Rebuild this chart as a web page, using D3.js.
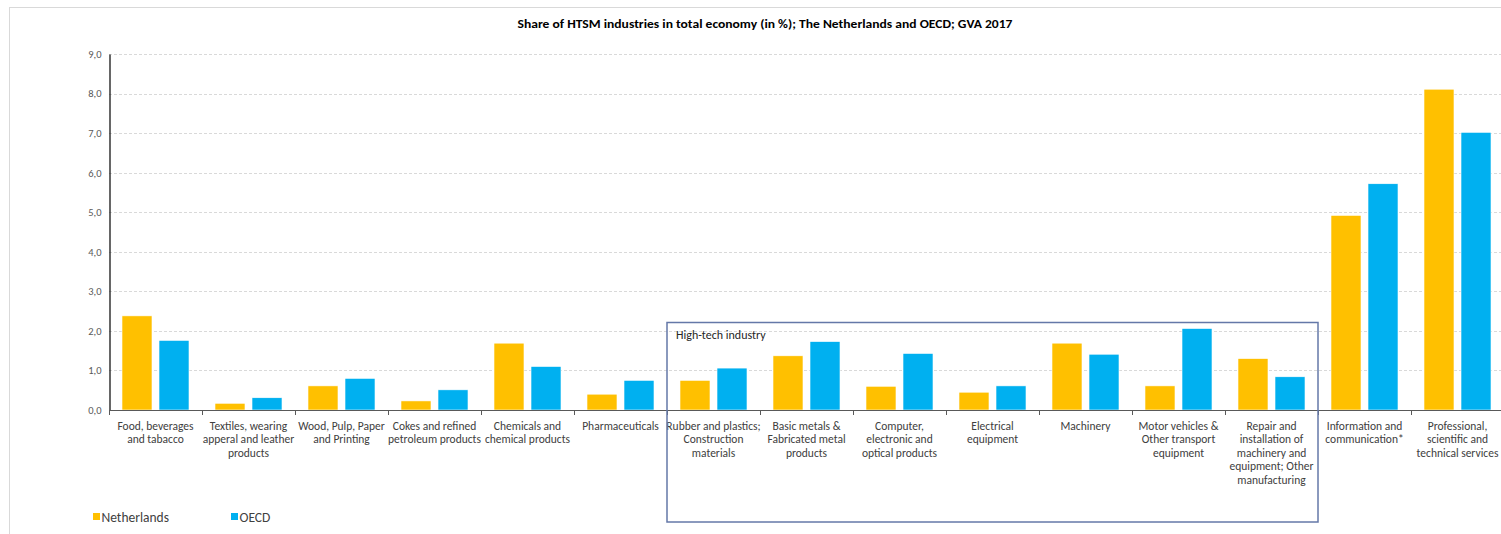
<!DOCTYPE html>
<html>
<head>
<meta charset="utf-8">
<script src="https://cdn.jsdelivr.net/npm/d3@7"></script>
<style>
  html, body { margin: 0; padding: 0; background: #fff; }
  svg { display: block; font-family: Calibri, Carlito, Lato, "Open Sans", sans-serif; }
</style>
</head>
<body>
<svg id="chart" width="1501" height="534"></svg>
<script>
// Industry categories (line breaks as shown under the axis)
const categories = [
  "Food, beverages\nand tabacco",
  "Textiles, wearing\napperal and leather\nproducts",
  "Wood, Pulp, Paper\nand Printing",
  "Cokes and refined\npetroleum products",
  "Chemicals and\nchemical products",
  "Pharmaceuticals",
  "Rubber and plastics;\nConstruction\nmaterials",
  "Basic metals &\nFabricated metal\nproducts",
  "Computer,\nelectronic and\noptical products",
  "Electrical\nequipment",
  "Machinery",
  "Motor vehicles &\nOther transport\nequipment",
  "Repair and\ninstallation of\nmachinery and\nequipment; Other\nmanufacturing",
  "Information and\ncommunication*",
  "Professional,\nscientific and\ntechnical services"
];

const seriesNames = ["Netherlands", "OECD"];

// Share of gross value added, 2017 (%)
const netherlandsValues = [2.38, 0.17, 0.61, 0.23, 1.69, 0.40, 0.75, 1.37, 0.60, 0.45, 1.69, 0.61, 1.30, 4.92, 8.11];
const oecdValues        = [1.76, 0.31, 0.80, 0.51, 1.10, 0.75, 1.06, 1.73, 1.43, 0.61, 1.41, 2.06, 0.84, 5.72, 7.02];

const yTicks = [0, 1, 2, 3, 4, 5, 6, 7, 8, 9];
const titleText = "Share of HTSM industries in total economy (in %); The Netherlands and OECD; GVA 2017";
const highTechLabel = "High-tech industry";
const highTechFirst = 6;   // Rubber and plastics
const highTechLast = 12;   // Repair and installation

const colors = { "Netherlands": "#FFC000", "OECD": "#00B0F0" };

const svg = d3.select("#chart");

// Chart area frame
svg.append("rect")
  .attr("x", 9.5).attr("y", 7.5)
  .attr("width", 1600).attr("height", 600)
  .attr("fill", "#fff").attr("stroke", "#d9d9d9").attr("stroke-width", 1);

const plot = { left: 109, top: 54, bottom: 410, right: 1504 };

const x = d3.scaleBand()
  .domain(categories)
  .range([plot.left, plot.right])
  .paddingInner(0).paddingOuter(0);

const xs = d3.scaleBand()
  .domain(seriesNames)
  .range([0, x.bandwidth()])
  .paddingInner(7 / 37)
  .paddingOuter(0.351);

const y = d3.scaleLinear().domain([0, 9]).range([plot.bottom, plot.top]);

// Title
svg.append("text")
  .attr("x", 765).attr("y", 28)
  .attr("text-anchor", "middle")
  .attr("font-size", 12.5).attr("font-weight", "bold")
  .attr("fill", "#000")
  .attr("textLength", 495).attr("lengthAdjust", "spacingAndGlyphs")
  .text(titleText);

// Horizontal gridlines
svg.append("g")
  .selectAll("line")
  .data(yTicks.filter(d => d > 0))
  .join("line")
  .attr("x1", plot.left).attr("x2", 1501)
  .attr("y1", d => Math.round(y(d)) + 0.5).attr("y2", d => Math.round(y(d)) + 0.5)
  .attr("stroke", "#d9d9d9").attr("stroke-dasharray", "3,2").attr("stroke-width", 1);

// Y axis
const yAxis = d3.axisLeft(y)
  .tickValues(yTicks)
  .tickSize(0)
  .tickPadding(8)
  .tickFormat(d => d3.format(".1f")(d).replace(".", ","));

const gy = svg.append("g")
  .attr("transform", `translate(${plot.left + 0.5},0)`)
  .call(yAxis);
gy.select(".domain").attr("stroke", "#000").attr("stroke-width", 1.2);
gy.selectAll("text")
  .attr("font-size", 10.5).attr("fill", "#595959")
  .attr("font-family", "Calibri, Carlito, Lato, sans-serif");

// Bars
const groups = svg.append("g")
  .selectAll("g")
  .data(categories.map((c, i) => ({ c, vals: [netherlandsValues[i], oecdValues[i]] })))
  .join("g")
  .attr("transform", d => `translate(${x(d.c)},0)`);

groups.selectAll("rect")
  .data(d => d.vals.map((v, j) => ({ s: seriesNames[j], v })))
  .join("rect")
  .attr("x", d => xs(d.s))
  .attr("width", xs.bandwidth())
  .attr("y", d => y(d.v))
  .attr("height", d => y(0) - y(d.v))
  .attr("fill", d => colors[d.s])
  .attr("stroke", "#fff").attr("stroke-width", 0.6);

// X axis line with ticks at category boundaries
svg.append("line")
  .attr("x1", plot.left).attr("x2", 1501)
  .attr("y1", plot.bottom + 0.5).attr("y2", plot.bottom + 0.5)
  .attr("stroke", "#595959").attr("stroke-width", 1.2);

svg.append("g")
  .selectAll("line")
  .data(categories)
  .join("line")
  .attr("x1", d => Math.round(x(d)) + 0.5).attr("x2", d => Math.round(x(d)) + 0.5)
  .attr("y1", plot.bottom).attr("y2", plot.bottom + 5)
  .attr("stroke", "#595959").attr("stroke-width", 1);

// Category labels
const labels = svg.append("g")
  .selectAll("text")
  .data(categories)
  .join("text")
  .attr("x", d => x(d) + x.bandwidth() / 2)
  .attr("y", 429.5)
  .attr("text-anchor", "middle")
  .attr("font-size", 11.5).attr("fill", "#404040");

labels.selectAll("tspan")
  .data(d => d.split("\n"))
  .join("tspan")
  .attr("x", function () { return this.parentNode.getAttribute("x"); })
  .attr("dy", (d, i) => i === 0 ? 0 : 13.5)
  .text(d => d);

// High-tech industry box
const boxX0 = x(categories[highTechFirst]);
const boxX1 = x(categories[highTechLast]) + x.bandwidth();
svg.append("rect")
  .attr("x", boxX0).attr("y", 322.5)
  .attr("width", boxX1 - boxX0).attr("height", 199.5)
  .attr("fill", "none").attr("stroke", "#6478a8").attr("stroke-width", 1.5);

svg.append("text")
  .attr("x", boxX0 + 9).attr("y", 338.5)
  .attr("font-size", 12).attr("fill", "#262626")
  .text(highTechLabel);

// Legend
const legendPos = [93, 231];
const legend = svg.append("g")
  .selectAll("g")
  .data(seriesNames)
  .join("g")
  .attr("transform", (d, i) => `translate(${legendPos[i]},513)`);

legend.append("rect")
  .attr("width", 7).attr("height", 7)
  .attr("fill", d => colors[d]);

legend.append("text")
  .attr("x", 8.5).attr("y", 8.5)
  .attr("font-size", 13.5).attr("fill", "#404040")
  .text(d => d);
</script>
</body>
</html>
